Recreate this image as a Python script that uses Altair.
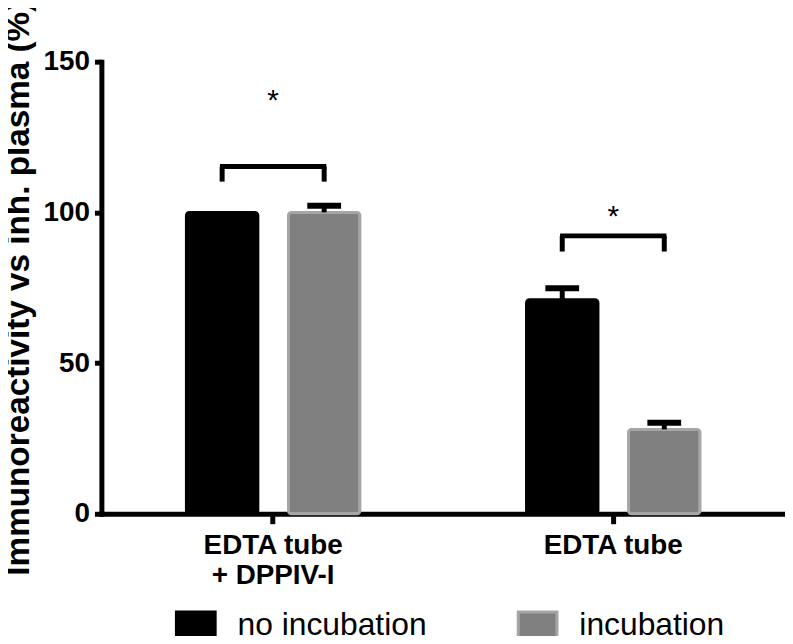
import altair as alt
import pandas as pd

# ---- data ----
groups = ["EDTA tube|+ DPPIV-I", "EDTA tube"]
series = ["no incubation", "incubation"]
mean_no_incubation = [100, 71]
err_no_incubation = [0, 3.8]
mean_incubation = [100, 28]
err_incubation = [2.2, 2.2]

bracket_top = [115.2, 92.2]
bracket_bottom = [110.2, 87.0]
star_y = [134.0, 95.6]
star_text = ["*", "*"]

colors_fill = ["#000000", "#808080"]
colors_stroke = ["#000000", "#a6a6a6"]

FONT = "Liberation Sans"

rows = []
for i, g in enumerate(groups):
    rows.append(dict(group=g, series=series[0], mean=mean_no_incubation[i], err=err_no_incubation[i]))
    rows.append(dict(group=g, series=series[1], mean=mean_incubation[i], err=err_incubation[i]))
bars_df = pd.DataFrame(rows)
bars_df["upper"] = bars_df["mean"] + bars_df["err"]

legs_rows = []
for i, g in enumerate(groups):
    for s in series:
        legs_rows.append(dict(group=g, series=s, top=bracket_top[i], bottom=bracket_bottom[i]))
legs_df = pd.DataFrame(legs_rows)
top_df = pd.DataFrame(dict(group=groups, top=bracket_top))
star_df = pd.DataFrame(dict(group=groups, y=star_y, text=star_text))

x_scale = alt.Scale(paddingInner=0.49, paddingOuter=0.25)
xoff_scale = alt.Scale(paddingInner=0.3)
y_scale = alt.Scale(domain=[0, 150], nice=False, zero=True)

x_enc = alt.X(
    "group:N",
    sort=groups,
    scale=x_scale,
    axis=alt.Axis(
        title=None,
        labelExpr="split(datum.label, '|')",
        labelFont=FONT,
        labelFontSize=28,
        labelFontWeight="bold",
        labelColor="black",
        labelLineHeight=30,
        labelAngle=0,
        labelPadding=8,
        tickSize=10,
        tickWidth=5,
        tickColor="black",
        domainWidth=5,
        domainColor="black",
        domainCap="square",
        grid=False,
    ),
)
xoff_enc = alt.XOffset("series:N", sort=series, scale=xoff_scale)

legend = alt.Legend(
    title=None,
    orient="none",
    legendX=74,
    legendY=546,
    direction="horizontal",
    symbolType="M-1,-0.69H1V0.69H-1Z",
    symbolSize=1521,
    symbolStrokeWidth=3,
    labelFont=FONT,
    labelFontSize=32,
    labelColor="black",
    labelOffset=21,
    labelLimit=500,
    columnPadding=85,
    padding=0,
)

bars = alt.Chart(bars_df).mark_bar(cornerRadius=3, strokeWidth=3).encode(
    x=x_enc,
    xOffset=xoff_enc,
    y=alt.Y(
        "mean:Q",
        scale=y_scale,
        axis=alt.Axis(
            values=[0, 50, 100, 150],
            title="Immunoreactivity vs inh. plasma (%)",
            titleFont=FONT,
            titleFontSize=33.5,
            titleFontWeight="bold",
            titleColor="black",
            titlePadding=8,
            labelFont=FONT,
            labelFontSize=28,
            labelFontWeight="bold",
            labelColor="black",
            labelPadding=5,
            tickSize=7,
            tickWidth=5,
            tickColor="black",
            domainWidth=5,
            domainColor="black",
            domainCap="square",
            grid=False,
        ),
    ),
    fill=alt.Fill("series:N", sort=series, scale=alt.Scale(domain=series, range=colors_fill), legend=legend),
    stroke=alt.Stroke("series:N", sort=series, scale=alt.Scale(domain=series, range=colors_stroke), legend=legend),
)

err_base = alt.Chart(bars_df).transform_filter("datum.err > 0")
stems = err_base.mark_rule(strokeWidth=5, color="black").encode(
    x=x_enc, xOffset=xoff_enc, y="mean:Q", y2="upper:Q"
)
caps = err_base.mark_tick(size=34, thickness=6, color="black", opacity=1).encode(
    x=x_enc, xOffset=xoff_enc, y="upper:Q"
)

legs = alt.Chart(legs_df).mark_rule(strokeWidth=5, color="black").encode(
    x=x_enc, xOffset=xoff_enc, y="top:Q", y2="bottom:Q"
)
tops = alt.Chart(top_df).mark_tick(size=107, thickness=5, color="black", opacity=1).encode(
    x=x_enc, y="top:Q"
)
stars = alt.Chart(star_df).mark_text(font=FONT, fontSize=30, baseline="alphabetic", color="black").encode(
    x=x_enc, y="y:Q", text="text:N"
)

chart = alt.layer(bars, stems, caps, legs, tops, stars).properties(
    width=688,
    height=455,
    autosize=alt.AutoSizeParams(type="none"),
    padding={"left": 94, "top": 52, "right": 0, "bottom": 121},
).configure(background="white").configure_view(stroke=None)

chart.save("out.html", embed_options={"renderer": "svg", "actions": False})
